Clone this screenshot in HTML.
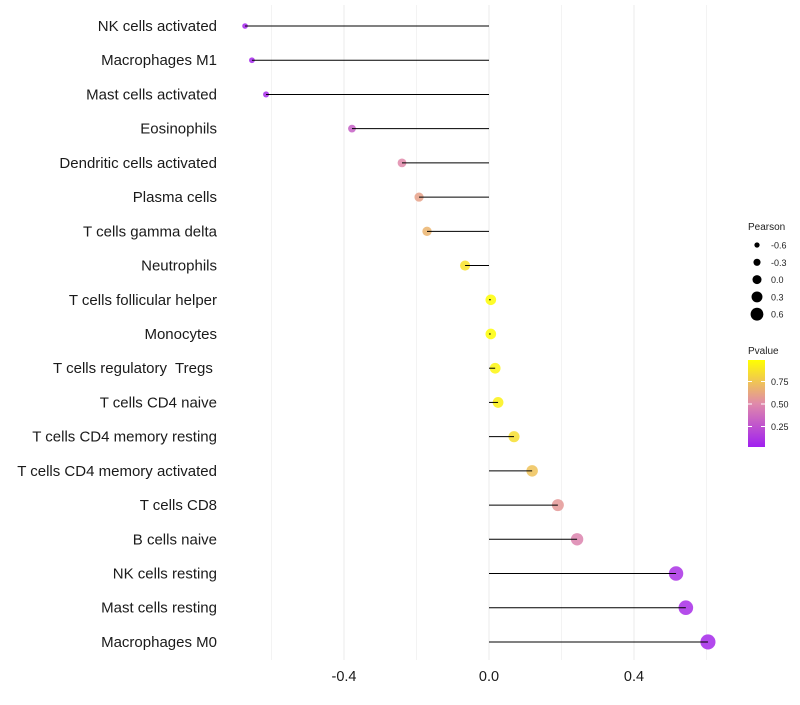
<!DOCTYPE html>
<html><head><meta charset="utf-8"><style>
body{margin:0;background:#fff;font-family:"Liberation Sans",sans-serif}
text{white-space:pre}
</style></head><body>
<svg id="c" width="800" height="700" xmlns="http://www.w3.org/2000/svg">
<defs><linearGradient id="pg" x1="0" y1="1" x2="0" y2="0">
<stop offset="0" stop-color="#a020f0"/><stop offset="0.5" stop-color="#e08aaa"/><stop offset="1" stop-color="#ffff00"/>
</linearGradient></defs>
<g id="grid"></g><g id="pts"></g><g id="marks"></g><g id="labels"></g><g id="legend"></g>
</svg>
<script>
const categories=["NK cells activated","Macrophages M1","Mast cells activated","Eosinophils","Dendritic cells activated","Plasma cells","T cells gamma delta","Neutrophils","T cells follicular helper","Monocytes","T cells regulatory  Tregs ","T cells CD4 naive","T cells CD4 memory resting","T cells CD4 memory activated","T cells CD8","B cells naive","NK cells resting","Mast cells resting","Macrophages M0"];
const pearson=[-0.673,-0.654,-0.615,-0.378,-0.24,-0.193,-0.171,-0.066,0.005,0.005,0.017,0.025,0.069,0.119,0.19,0.243,0.516,0.543,0.604];
const pvalues=[0.02,0.03,0.05,0.3,0.5,0.6,0.68,0.88,0.99,0.99,0.96,0.94,0.86,0.74,0.56,0.47,0.08,0.06,0.04];
const xTicks=[-0.4,0.0,0.4];
const xMinor=[-0.6,-0.2,0.2,0.6];
const sizeLegend=[-0.6,-0.3,0.0,0.3,0.6];
const colorTicks=[0.25,0.5,0.75];
const NS="http://www.w3.org/2000/svg";
const xs=v=>489+v*362.5;
const ys=i=>26+i*34.22;
const rs=v=>5.3+3.7*v;
function lerp(a,b,t){return a.map((x,i)=>Math.round(x+(b[i]-x)*t));}
function col(p){const A=[160,32,240],B=[224,138,170],C=[255,255,0];const c=p<0.5?lerp(A,B,p/0.5):lerp(B,C,(p-0.5)/0.5);return `rgb(${c})`;}
function mk(tag,attrs,parent,txt){const e=document.createElementNS(NS,tag);for(const k in attrs)e.setAttribute(k,attrs[k]);if(txt!==undefined)e.textContent=txt;document.getElementById(parent).appendChild(e);return e;}
xMinor.forEach(v=>{const l=mk('line',{x1:xs(v),x2:xs(v),y1:5,y2:660,stroke:'#f3f3f3','stroke-width':1},'grid');

});
xTicks.forEach(v=>{const l=mk('line',{x1:xs(v),x2:xs(v),y1:5,y2:660,stroke:'#ebebeb','stroke-width':1},'grid');


const t=mk('text',{x:xs(v),y:681,'text-anchor':'middle','font-size':14.5,fill:'#1a1a1a'},'labels',v.toFixed(1));

});
categories.forEach((c,i)=>{const y=ys(i);
const t=mk('text',{x:217,y:y+5,'text-anchor':'end','font-size':15,fill:'#1a1a1a'},'labels',c);


const p=mk('circle',{cx:xs(pearson[i]),cy:y,r:rs(pearson[i]),fill:col(pvalues[i]),'fill-opacity':0.85},'pts');


const l=mk('line',{x1:xs(0),x2:xs(pearson[i]),y1:y,y2:y,stroke:'#000','stroke-width':1},'marks');

});
let t=mk('text',{x:748,y:230,'font-size':10,fill:'#222'},'legend','Pearson');


sizeLegend.forEach((v,i)=>{const y=245+i*17.3;
const c=mk('circle',{cx:757,cy:y,r:rs(v)*0.85,fill:'#000'},'legend');


const l=mk('text',{x:771,y:y+3.5,'font-size':9,fill:'#222'},'legend',v.toFixed(1));

});
t=mk('text',{x:748,y:354,'font-size':10,fill:'#222'},'legend','Pvalue');


const bar=mk('rect',{x:748,y:360,width:17,height:87,fill:'url(#pg)'},'legend');


colorTicks.forEach(v=>{const y=449-v*90;
const k=mk('line',{x1:748,x2:752,y1:y,y2:y,stroke:'#fff'},'legend');


const k2=mk('line',{x1:761,x2:765,y1:y,y2:y,stroke:'#fff'},'legend');


const l=mk('text',{x:771,y:y+3.5,'font-size':9,fill:'#222'},'legend',v.toFixed(2));

});
</script>
</body></html>
